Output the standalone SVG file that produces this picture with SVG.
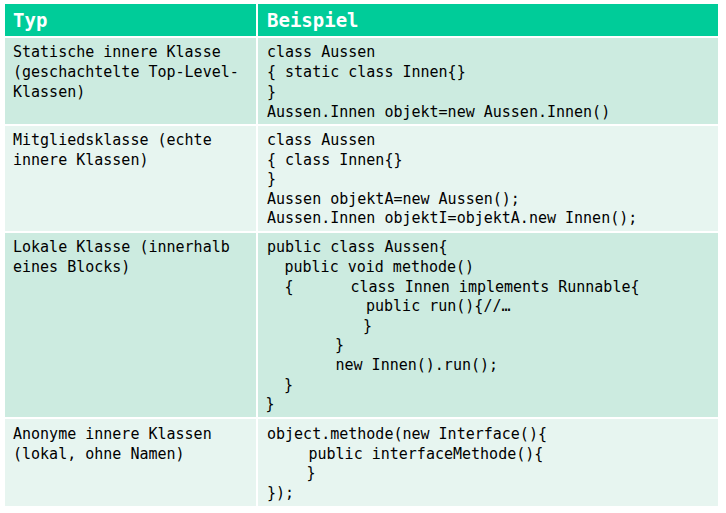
<svg xmlns="http://www.w3.org/2000/svg" width="726" height="513" viewBox="0 0 726 513">
<style>
.hd{fill:#00CC99}
.b1{fill:#CCEBE0}
.b2{fill:#E7F5F0}
.t{font-family:"DejaVu Sans Mono","Liberation Mono",monospace;font-size:15px;fill:#000}
.h{font-family:"DejaVu Sans Mono","Liberation Mono",monospace;font-size:19px;font-weight:bold;fill:#fff}
</style>
<rect width="726" height="513" fill="#fff"/>
<g id="header">
<rect class="hd" x="5" y="4" width="251" height="32"/>
<rect class="hd" x="258" y="4" width="460" height="32"/>
<text class="h" x="13" y="27">Typ</text>
<text class="h" x="267" y="27">Beispiel</text>
</g>
<g id="row1">
<rect class="b1" x="5" y="38" width="251" height="86"/>
<rect class="b1" x="258" y="38" width="460" height="86"/>
<text class="t" x="13" y="57.3">Statische innere Klasse</text>
<text class="t" x="13" y="77">(geschachtelte Top-Level-</text>
<text class="t" x="13" y="96.7">Klassen)</text>
<text class="t" x="267" y="57.3">class Aussen</text>
<text class="t" x="267" y="77">{ static class Innen{}</text>
<text class="t" x="267" y="96.7">}</text>
<text class="t" x="267" y="116.5">Aussen.Innen objekt=new Aussen.Innen()</text>
</g>
<g id="row2">
<rect class="b2" x="5" y="126" width="251" height="105"/>
<rect class="b2" x="258" y="126" width="460" height="105"/>
<text class="t" x="13" y="145">Mitgliedsklasse (echte</text>
<text class="t" x="13" y="164.5">innere Klassen)</text>
<text class="t" x="267" y="145">class Aussen</text>
<text class="t" x="267" y="164.5">{ class Innen{}</text>
<text class="t" x="267" y="184">}</text>
<text class="t" x="267" y="203.5">Aussen objektA=new Aussen();</text>
<text class="t" x="267" y="223">Aussen.Innen objektI=objektA.new Innen();</text>
</g>
<g id="row3">
<rect class="b1" x="5" y="233" width="251" height="184"/>
<rect class="b1" x="258" y="233" width="460" height="184"/>
<text class="t" x="13" y="252.3">Lokale Klasse (innerhalb</text>
<text class="t" x="13" y="272">eines Blocks)</text>
<text class="t" x="267" y="252.3">public class Aussen{</text>
<text class="t" x="284.5" y="272">public void methode()</text>
<text class="t" x="284.5" y="291.5">{</text>
<text class="t" x="350.5" y="291.5">class Innen implements Runnable{</text>
<text class="t" x="366" y="311">public run(){//…</text>
<text class="t" x="363" y="330.7">}</text>
<text class="t" x="335" y="350.3">}</text>
<text class="t" x="335.5" y="370">new Innen().run();</text>
<text class="t" x="284" y="389.5">}</text>
<text class="t" x="265.5" y="409">}</text>
</g>
<g id="row4">
<rect class="b2" x="5" y="419" width="251" height="87"/>
<rect class="b2" x="258" y="419" width="460" height="87"/>
<text class="t" x="13" y="439">Anonyme innere Klassen</text>
<text class="t" x="13" y="458.5">(lokal, ohne Namen)</text>
<text class="t" x="267" y="439">object.methode(new Interface(){</text>
<text class="t" x="308.5" y="458.5">public interfaceMethode(){</text>
<text class="t" x="306.5" y="478">}</text>
<text class="t" x="267" y="497.5">});</text>
</g>
<g id="connectors"></g>
</svg>
